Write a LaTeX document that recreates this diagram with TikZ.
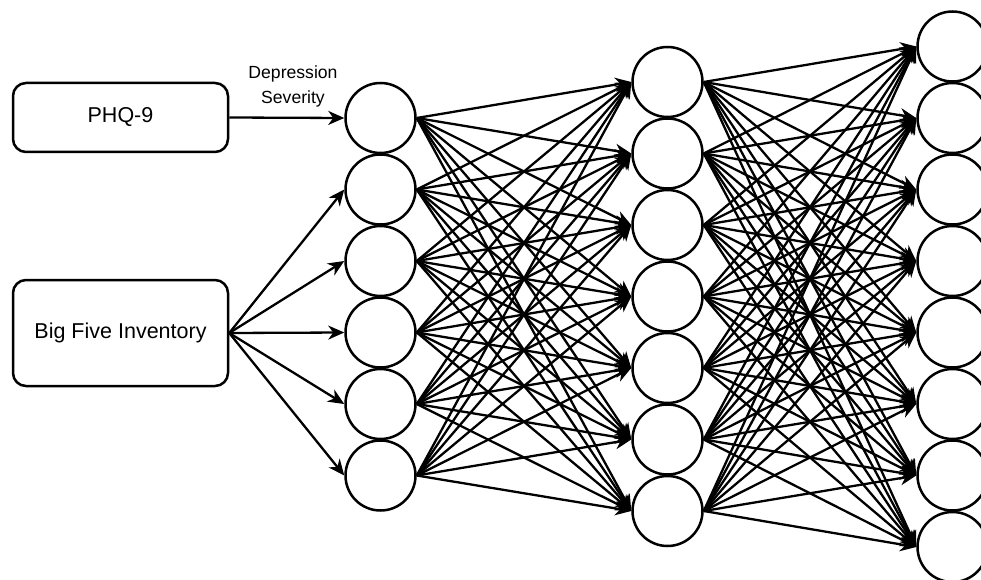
\documentclass[tikz,border=0pt]{standalone}
\usepackage{fontspec}
\setmainfont{Liberation Sans}
\usetikzlibrary{arrows.meta}

\begin{document}
\begin{tikzpicture}
[
    x=1pt, y=-1pt,
    neuron/.style={circle, draw, fill=white, line width=2.5pt, minimum size=70pt, inner sep=0pt},
    inbox/.style={draw, rounded corners=13pt, line width=2.5pt, minimum width=215pt, font=\fontsize{21.5}{26}\selectfont},
    conn/.style={line width=2.3pt, -{Stealth[length=16pt, width=14pt, inset=5pt]}},
]
\useasboundingbox (0,0) rectangle (981,580);

% input boxes
\node [inbox, minimum height=69pt] (phq) at (120.5,117.5) {PHQ-9};
\node [inbox, minimum height=106pt] (bfi) at (120.5,333) {Big Five Inventory};

% layers
\foreach \i in {1,...,6}
    \node [neuron] (a\i) at (380.5,{118+71.5*(\i-1)}) {};
\foreach \i in {1,...,7}
    \node [neuron] (b\i) at (667.5,{82+71.5*(\i-1)}) {};
\foreach \i in {1,...,8}
    \node [neuron] (c\i) at (952.5,{46.5+71.5*(\i-1)}) {};

\node [font=\fontsize{17.6}{25}\selectfont, align=center] (sev) at (293,86) {Depression\\Severity};

\draw [conn] (phq.east) -- (a1.west);
\foreach \i in {2,...,6}
    \draw [conn] (bfi.east) -- (a\i.west);
\foreach \i in {1,...,6}
    \foreach \j in {1,...,7}
        \draw [conn] (a\i.east) -- (b\j.west);
\foreach \i in {1,...,7}
    \foreach \j in {1,...,8}
        \draw [conn] (b\i.east) -- (c\j.west);
\end{tikzpicture}
\end{document}
